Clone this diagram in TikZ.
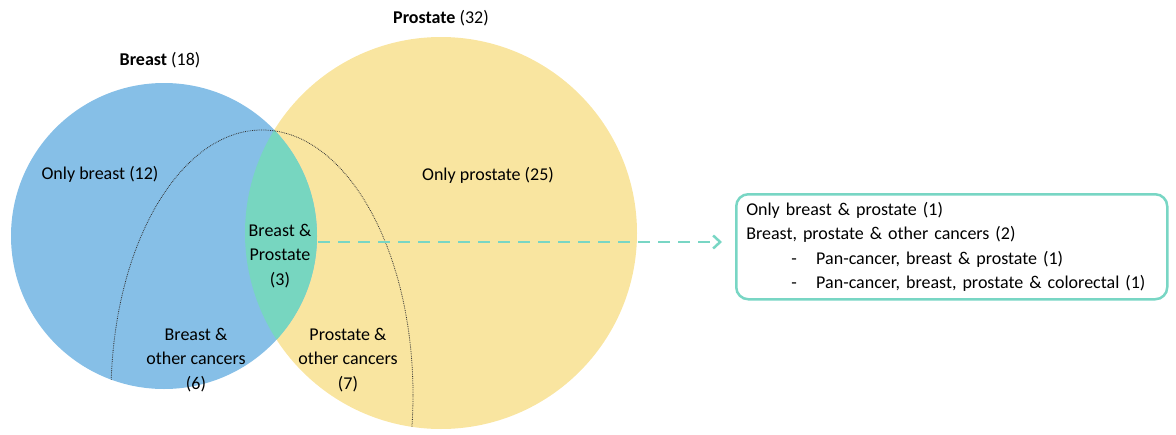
\documentclass[tikz,border=0pt]{standalone}
\usepackage{fontspec}
\setmainfont{Carlito}
\usetikzlibrary{calc,
	positioning,
	arrows.meta}
\definecolor{breastblue}{RGB}{134,191,231}
\definecolor{prostateyellow}{RGB}{249,229,160}
\definecolor{overlapgreen}{RGB}{119,214,192}
\definecolor{tealline}{RGB}{120,214,196}

\begin{document}
\begin{tikzpicture}[x=1pt, y=-1pt,
	font=\fontsize{18}{24.5}\selectfont,
	region/.style={align=center, inner sep=0pt},
	detailbox/.style={draw=tealline, line width=2.5pt, rounded corners=12pt, align=left,
		inner xsep=10pt, inner ysep=0pt, text width=411pt, minimum height=105pt},
	linkarrow/.style={draw=tealline, line width=2.5pt, dash pattern=on 12pt off 8pt,
		-{Straight Barb[length=7pt, width=13pt]}, shorten >=13pt}]
	\useasboundingbox (0,0) rectangle (1176,434);

	% circles
	\fill[prostateyellow] (441,233) circle (196pt);
	\fill[breastblue] (164,236) circle (153pt);
	\begin{scope}
		\clip (164,236) circle (153pt);
		\fill[overlapgreen] (441,233) circle (196pt);
	\end{scope}

	% other cancers
	\begin{scope}
		\clip (164,236) circle (153pt) (441,233) circle (196pt);
		\draw[black!80, line width=0.8pt, densely dotted] (262,395) ellipse (151pt and 265pt);
	\end{scope}

	\node (breastttl) at (160,60) {\textbf{Breast} (18)};
	\node (prostatettl) at (441,18) {\textbf{Prostate} (32)};
	\node (onlybreast) at (100,174) {Only breast (12)};
	\node (onlyprostate) at (488,175) {Only prostate (25)};
	\node[region] (both) at (280,256) {Breast \&\\Prostate\\(3)};
	\node[region] (breastother) at (196,360) {Breast \&\\other cancers\\(6)};
	\node[region] (prostateother) at (348,360) {Prostate \&\\other cancers\\(7)};

	\node[detailbox, anchor=north west] (detail) at (735,193) {Only breast \& prostate (1)\\
		Breast, prostate \& other cancers (2)\\
		\makebox[70pt][l]{\hspace*{45pt}-}Pan-cancer, breast \& prostate (1)\\
		\makebox[70pt][l]{\hspace*{45pt}-}Pan-cancer, breast, prostate \& colorectal (1)};

	\coordinate (lensright) at (318,242);
	\draw[linkarrow] (lensright) -- (lensright -| detail.west);
\end{tikzpicture}
\end{document}
